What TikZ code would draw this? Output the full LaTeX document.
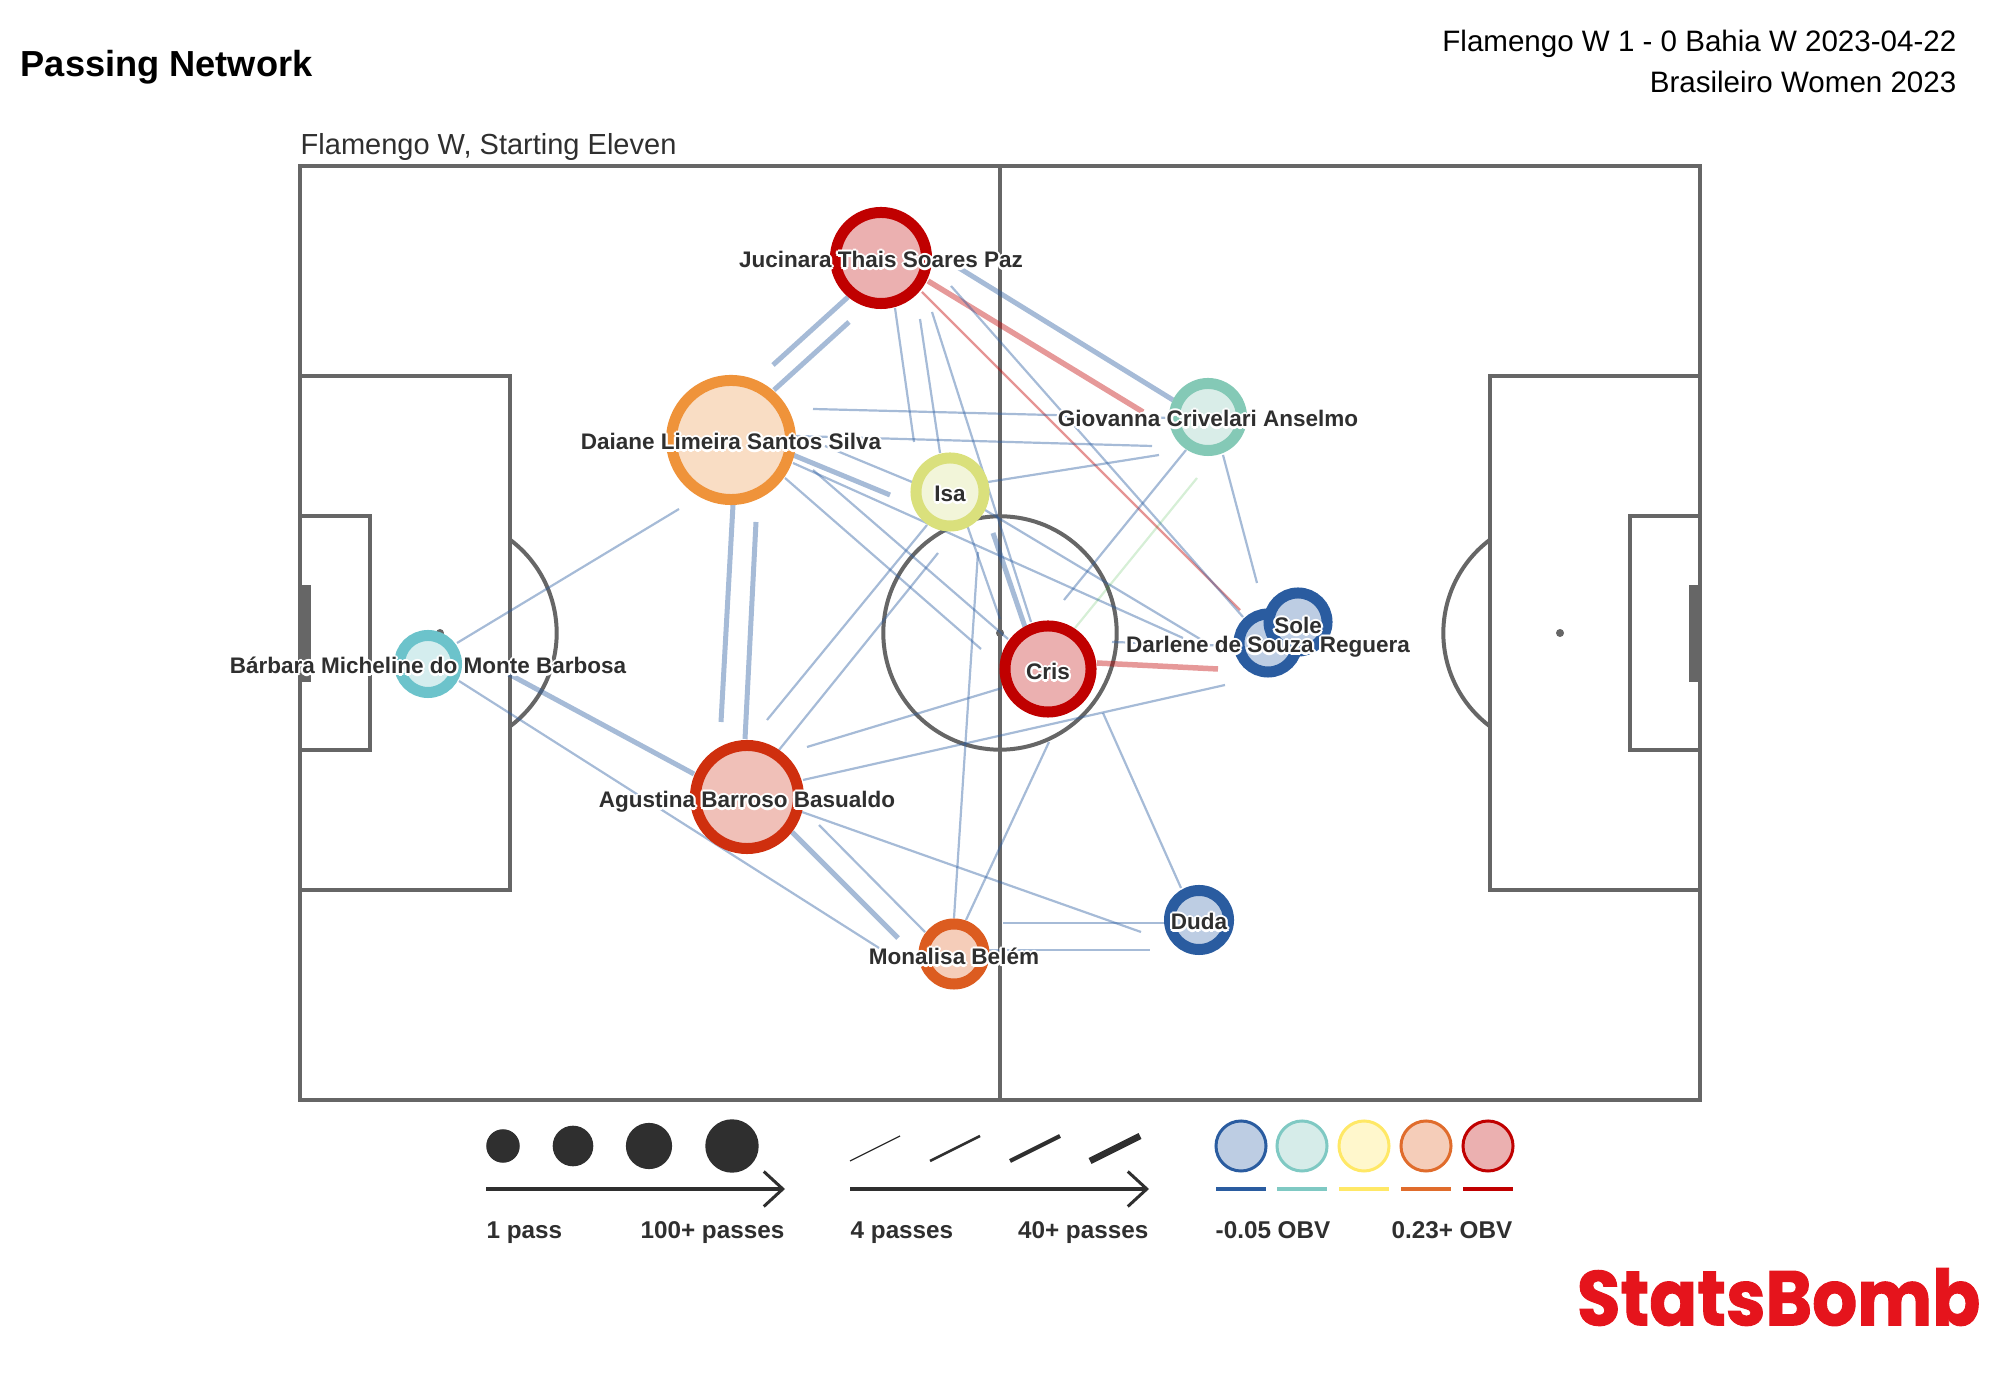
\documentclass[tikz,border=0pt]{standalone}
\usepackage{fontspec}
\setmainfont{Liberation Sans}
\newfontfamily\logofont[BoldFeatures={FakeBold=1.3}]{Poppins}
\usetikzlibrary{calc,arrows.meta}

\pgfdeclarelayer{pitchlayer}
\pgfdeclarelayer{passlayer}
\pgfsetlayers{pitchlayer,passlayer,main}

\definecolor{pitchgrey}{HTML}{666666}
\definecolor{inkdark}{HTML}{2F2F2F}
\definecolor{ringblue}{HTML}{2A5CA0}
\definecolor{fillblue}{HTML}{BDCDE3}
\definecolor{ringteal}{HTML}{7FC9C3}
\definecolor{fillteal}{HTML}{D6ECE9}
\definecolor{ringyellow}{HTML}{FFE866}
\definecolor{fillyellow}{HTML}{FFF7CC}
\definecolor{ringorange}{HTML}{E06C2C}
\definecolor{fillorange}{HTML}{F5CDB9}
\definecolor{ringred}{HTML}{C00000}
\definecolor{fillred}{HTML}{EBB0B0}
\definecolor{ringamber}{HTML}{EF933A}
\definecolor{fillamber}{HTML}{F9DDC4}
\definecolor{ringlime}{HTML}{DAE07C}
\definecolor{filllime}{HTML}{F2F5D9}
\definecolor{ringmint}{HTML}{84C9B6}
\definecolor{fillmint}{HTML}{D9EDE8}
\definecolor{ringcyan}{HTML}{6CC3CB}
\definecolor{fillcyan}{HTML}{D4EDEE}
\definecolor{ringrust}{HTML}{CF2F0E}
\definecolor{fillrust}{HTML}{F0C0B8}
\definecolor{ringpumpkin}{HTML}{DC5C20}
\definecolor{logored}{HTML}{E5141C}

% white outline behind a label
\newcommand{\halo}[1]{\foreach \hx/\hy in {.65/0,-.65/0,0/.65,0/-.65,.46/.46,-.46/.46,.46/-.46,-.46/-.46}{\rlap{\kern\hx pt\raisebox{\hy pt}{\textcolor{white}{#1}}}}#1}

\begin{document}
\begin{tikzpicture}[x=0.01cm,y=-0.01cm,
  pitchline/.style={draw=pitchgrey,line width=0.04cm},
  player/.style n args={2}{circle,draw=#1,fill=#2,line width=0.11cm,inner sep=0pt},
  thinpass/.style={draw=ringblue,opacity=.42,line width=0.022cm},
  thickpass/.style={draw=ringblue,opacity=.42,line width=0.05cm},
  thinred/.style={draw=ringred,opacity=.42,line width=0.022cm},
  thickred/.style={draw=ringred,opacity=.4,line width=0.055cm},
  thingreen/.style={draw=green!60!black,opacity=.16,line width=0.022cm},
  boxtext/.style={text height=.75em,text depth=.25em,inner sep=0pt},
  playername/.style={boxtext,font=\bfseries\fontsize{6.4}{8}\selectfont,text=inkdark},
  legendtext/.style={boxtext,font=\bfseries\fontsize{6.9}{8}\selectfont,text=inkdark},
  headertext/.style={boxtext,font=\fontsize{8.4}{10}\selectfont,text=black},
  scalearrow/.style={draw=inkdark,line width=0.03cm,-{Straight Barb[length=0.19cm,width=0.35cm]}},
  sizedot/.style={circle,fill=inkdark,inner sep=0pt},
  valuedot/.style n args={2}{circle,draw=#1,fill=#2,line width=0.03cm,inner sep=0pt,minimum size=0.5cm}]
  \useasboundingbox (0,0) rectangle (2000,1380);

  % pitch
  \begin{pgfonlayer}{pitchlayer}
  \draw[pitchline] (300,166) rectangle (1700,1100);
  \draw[pitchline] (1000,166) -- (1000,1100);
  \draw[pitchline] (1000,633) circle[radius=116.7];
  \fill[pitchgrey] (1000,633) circle[radius=4];
  \draw[pitchline] (300,376) rectangle (510,890);
  \draw[pitchline] (300,516) rectangle (370,750);
  \draw[pitchline] (1490,376) rectangle (1700,890);
  \draw[pitchline] (1630,516) rectangle (1700,750);
  \fill[pitchgrey] (300,585) rectangle (311,682);
  \fill[pitchgrey] (1689,585) rectangle (1700,682);
  \fill[pitchgrey] (440,633) circle[radius=4];
  \fill[pitchgrey] (1560,633) circle[radius=4];
  \draw[pitchline] (510,539.7) arc[start angle=-53.13,end angle=53.13,radius=116.7];
  \draw[pitchline] (1490,539.7) arc[start angle=233.13,end angle=126.87,radius=116.7];
  \end{pgfonlayer}

  % players
  \node[player={ringred}{fillred},minimum size=0.91cm] (jucinara) at (881,258) {};
  \node[player={ringamber}{fillamber},minimum size=1.19cm] (daiane) at (731,440) {};
  \node[player={ringlime}{filllime},minimum size=0.68cm] (isa) at (950,492) {};
  \node[player={ringmint}{fillmint},minimum size=0.67cm] (giovanna) at (1208,417) {};
  \node[player={ringcyan}{fillcyan},minimum size=0.57cm] (barbara) at (428,664) {};
  \node[player={ringrust}{fillrust},minimum size=1.03cm] (agustina) at (747,797) {};
  \node[player={ringpumpkin}{fillorange},minimum size=0.60cm] (monalisa) at (954,954) {};
  \node[player={ringred}{fillred},minimum size=0.86cm] (cris) at (1048,669) {};
  \node[player={ringblue}{fillblue},minimum size=0.59cm] (duda) at (1199,920) {};
  \node[player={ringblue}{fillblue},minimum size=0.58cm] (darlene) at (1268,643) {};
  \node[player={ringblue}{fillblue},minimum size=0.58cm] (sole) at (1298,622) {};

  % passes
  \begin{pgfonlayer}{passlayer}
  \draw[thickpass] ($ (jucinara) + (-33,39) $) -- ($ (daiane) + (42,-75) $);
  \draw[thickpass] ($ (daiane) + (43,-50) $) -- ($ (jucinara) + (-32,64) $);
  \draw[thickpass] ($ (jucinara) + (78,10) $) -- ($ (giovanna) + (-35,-17) $);
  \draw[thickred] ($ (jucinara) + (47,23) $) -- ($ (giovanna) + (-65,-5) $);
  \draw[thinred] ($ (jucinara) + (41,34) $) -- ($ (darlene) + (-28,-33) $);
  \draw[thinpass] ($ (jucinara) + (70,28) $) -- ($ (darlene) + (-25,-26) $);
  \draw[thinpass] ($ (jucinara) + (14,50) $) -- ($ (isa) + (-36,-50) $);
  \draw[thinpass] ($ (jucinara) + (39,61) $) -- ($ (isa) + (-10,-39) $);
  \draw[thinpass] ($ (jucinara) + (51,54) $) -- ($ (cris) + (-17,-47) $);
  \draw[thinpass] ($ (daiane) + (82,-31) $) -- ($ (giovanna) + (-38,1) $);
  \draw[thinpass] ($ (daiane) + (65,-4) $) -- ($ (giovanna) + (-56,29) $);
  \draw[thinpass] ($ (isa) + (38,-10) $) -- ($ (giovanna) + (-49,38) $);
  \draw[thickpass] ($ (daiane) + (62,15) $) -- ($ (isa) + (-60,3) $);
  \draw[thinpass] ($ (isa) + (-38,-10) $) -- ($ (daiane) + (94,6) $);
  \draw[thinpass] ($ (daiane) + (62,23) $) -- ($ (darlene) + (-85,-5) $);
  \draw[thinpass] ($ (isa) + (35,18) $) -- ($ (darlene) + (-63,-1) $);
  \draw[thinpass] ($ (daiane) + (82,30) $) -- ($ (cris) + (-40,-30) $);
  \draw[thinpass] ($ (daiane) + (54,38) $) -- ($ (cris) + (-67,-20) $);
  \draw[thinpass] ($ (isa) + (17,33) $) -- ($ (cris) + (-48,-50) $);
  \draw[thickpass] ($ (isa) + (43,41) $) -- ($ (cris) + (-23,-42) $);
  \draw[thinpass] ($ (agustina) + (20,-77) $) -- ($ (isa) + (-23,33) $);
  \draw[thinpass] ($ (agustina) + (32,-47) $) -- ($ (isa) + (-12,61) $);
  \draw[thickpass] ($ (daiane) + (2,65) $) -- ($ (agustina) + (-26,-75) $);
  \draw[thickpass] ($ (daiane) + (25,82) $) -- ($ (agustina) + (-2,-58) $);
  \draw[thickpass] ($ (barbara) + (77,8) $) -- ($ (agustina) + (-53,-23) $);
  \draw[thinpass] ($ (daiane) + (-52,69) $) -- ($ (barbara) + (29,-21) $);
  \draw[thinpass] ($ (barbara) + (31,17) $) -- ($ (monalisa) + (-75,-6) $);
  \draw[thickpass] ($ (agustina) + (45,35) $) -- ($ (monalisa) + (-56,-16) $);
  \draw[thinpass] ($ (agustina) + (72,28) $) -- ($ (monalisa) + (-29,-22) $);
  \draw[thinpass] ($ (agustina) + (55,15) $) -- ($ (duda) + (-58,12) $);
  \draw[thinpass] ($ (monalisa) + (49,-31) $) -- ($ (duda) + (-35,3) $);
  \draw[thinpass] ($ (monalisa) + (31,-4) $) -- ($ (duda) + (-49,30) $);
  \draw[thinpass] ($ (monalisa) + (0,-36) $) -- ($ (isa) + (28,60) $);
  \draw[thinpass] ($ (monalisa) + (12,-34) $) -- ($ (cris) + (1,73) $);
  \draw[thinpass] ($ (agustina) + (60,-50) $) -- ($ (cris) + (-46,19) $);
  \draw[thinpass] ($ (agustina) + (56,-17) $) -- ($ (darlene) + (-43,42) $);
  \draw[thinpass] ($ (duda) + (-18,-32) $) -- ($ (cris) + (55,44) $);
  \draw[thinpass] ($ (giovanna) + (-22,33) $) -- ($ (cris) + (16,-69) $);
  \draw[thinpass] ($ (giovanna) + (15,38) $) -- ($ (darlene) + (-11,-60) $);
  \draw[thingreen] ($ (giovanna) + (-11,61) $) -- ($ (cris) + (27,-41) $);
  \draw[thickred] ($ (cris) + (49,-6) $) -- ($ (darlene) + (-50,26) $);
  \draw[thinpass] ($ (cris) + (64,-27) $) -- ($ (darlene) + (-33,3) $);
  \end{pgfonlayer}

  \node[playername] (jucinaraname) at ($ (jucinara) + (0,1) $) {\halo{Jucinara Thais Soares Paz}};
  \node[playername] (daianename) at ($ (daiane) + (0,1) $) {\halo{Daiane Limeira Santos Silva}};
  \node[playername] (isaname) at ($ (isa) + (0,1) $) {\halo{Isa}};
  \node[playername] (giovannaname) at ($ (giovanna) + (0,1) $) {\halo{Giovanna Crivelari Anselmo}};
  \node[playername] (barbaraname) at ($ (barbara) + (0,1) $) {\halo{Bárbara Micheline do Monte Barbosa}};
  \node[playername] (agustinaname) at ($ (agustina) + (0,2) $) {\halo{Agustina Barroso Basualdo}};
  \node[playername] (monalisaname) at ($ (monalisa) + (0,2) $) {\halo{Monalisa Belém}};
  \node[playername] (crisname) at ($ (cris) + (0,2) $) {\halo{Cris}};
  \node[playername] (dudaname) at ($ (duda) + (0,1) $) {\halo{Duda}};
  \node[playername] (darlenename) at ($ (darlene) + (0,1) $) {\halo{Darlene de Souza Reguera}};
  \node[playername] (solename) at ($ (sole) + (0,3) $) {\halo{Sole}};

  % heading
  \node[headertext,font=\bfseries\fontsize{10.3}{12}\selectfont,anchor=west] (title) at (20,68) {Passing Network};
  \node[headertext,anchor=east] (matchline) at (1957,43) {Flamengo W 1 - 0 Bahia W 2023-04-22};
  \node[headertext,anchor=east] (seasonline) at (1957,84) {Brasileiro Women 2023};
  \node[headertext,font=\fontsize{8.25}{10}\selectfont,text=inkdark,anchor=west] (teamline) at (300,146) {Flamengo W, Starting Eleven};

  % legend
  \foreach \n/\x/\d in {a/503/0.335,b/573/0.406,c/649/0.462,d/732/0.534}
    \node[sizedot,minimum size=\d cm] (size\n) at (\x,1146) {};
  \coordinate (sizestart) at (486,1189);
  \coordinate (sizeend) at (785,1189);
  \draw[scalearrow] (sizestart) -- (sizeend);
  \node[legendtext,anchor=west] (sizelow) at (486,1230) {1 pass};
  \node[legendtext,anchor=east] (sizehigh) at (785,1230) {100+ passes};

  \foreach \x/\w in {850/0.012,930/0.025,1010/0.042,1090/0.065}
    \draw[inkdark,line width=\w cm] (\x,1161) -- ++(50,-25);
  \coordinate (widthstart) at (850,1189);
  \coordinate (widthend) at (1149,1189);
  \draw[scalearrow] (widthstart) -- (widthend);
  \node[legendtext,anchor=west] (widthlow) at (850,1230) {4 passes};
  \node[legendtext,anchor=east] (widthhigh) at (1149,1230) {40+ passes};

  \foreach \n/\x/\r/\f in {a/1241/ringblue/fillblue,b/1302/ringteal/fillteal,c/1364/ringyellow/fillyellow,d/1426/ringorange/fillorange,e/1488/ringred/fillred} {
    \node[valuedot={\r}{\f}] (value\n) at (\x,1146) {};
    \draw[\r,line width=0.04cm] ($ (value\n) + (-25,43) $) -- ($ (value\n) + (25,43) $);
  }
  \node[legendtext,anchor=west] (valuelow) at (1215,1230) {-0.05 OBV};
  \node[legendtext,anchor=east] (valuehigh) at (1513,1230) {0.23+ OBV};

  % logo
  \node[font=\logofont\bfseries\fontsize{22}{24}\selectfont,text=logored,inner sep=0pt,anchor=east] (logo) at (1981,1297) {\scalebox{.915}[1]{StatsBomb}};
\end{tikzpicture}
\end{document}
